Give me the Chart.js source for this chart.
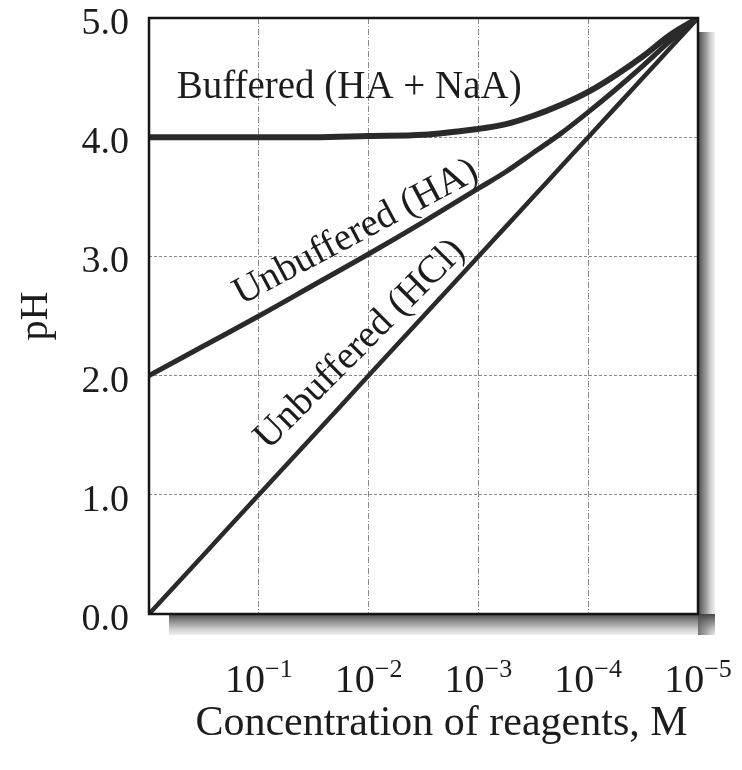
<!DOCTYPE html>
<html><head><meta charset="utf-8">
<script src="https://cdn.jsdelivr.net/npm/chart.js@4"></script>
<style>html,body{margin:0;padding:0;background:#fff}canvas{display:block}</style>
</head><body>
<canvas id="c" width="742" height="770"></canvas>
<script>
// ---- data ----
const concentrations = [1, 3.16e-1, 1e-1, 3.16e-2, 1e-2, 3.16e-3, 1e-3, 5.62e-4, 3.16e-4, 1.78e-4, 1e-4, 5.62e-5, 3.16e-5, 1.78e-5, 1e-5];
const phBuffered      = [4.00, 4.00, 4.00, 4.00, 4.01, 4.02, 4.07, 4.11, 4.18, 4.27, 4.38, 4.52, 4.68, 4.86, 5.00];
const phUnbufferedHA  = [2.00, 2.25, 2.50, 2.76, 3.02, 3.29, 3.57, 3.71, 3.87, 4.03, 4.21, 4.40, 4.60, 4.81, 5.00];
const phUnbufferedHCl = [0.00, 0.50, 1.00, 1.50, 2.00, 2.50, 3.00, 3.25, 3.50, 3.75, 4.00, 4.25, 4.50, 4.75, 5.00];
const seriesNames = ['Buffered (HA + NaA)', 'Unbuffered (HA)', 'Unbuffered (HCl)'];
const xTickValues = [1, 1e-1, 1e-2, 1e-3, 1e-4, 1e-5];
const xTickLabelBase = '10';
const xTickLabelExponents = ['', '\u22121', '\u22122', '\u22123', '\u22124', '\u22125'];
const yTickValues = [0, 1, 2, 3, 4, 5];
const xTitle = 'Concentration of reagents, M';
const yTitle = 'pH';

// ---- label placement (style, in data coordinates) ----
const labelPlacement = [
  {text: seriesNames[0], x: 5.6e-1, y: 4.33, rot: 0, align: 'left', baseline: 'alphabetic'},
  {text: seriesNames[1], x: 1.3e-2, y: 3.20, rot: -28, align: 'center', baseline: 'middle'},
  {text: seriesNames[2], x: 1.2e-2, y: 2.26, rot: -45, align: 'center', baseline: 'middle'}
];

const SERIF = '"Liberation Serif", "Times New Roman", serif';
const INK = '#1c1c1c';
const LINE = '#2a2a2a';

const pts = arr => concentrations.map((c, i) => ({x: c, y: arr[i]}));

const shadowPlugin = {
  id: 'shadow',
  beforeDraw(chart) {
    const {ctx, chartArea: a} = chart;
    ctx.save();
    let g = ctx.createLinearGradient(a.right, 0, a.right + 17, 0);
    g.addColorStop(0, 'rgba(60,60,60,0.95)');
    g.addColorStop(0.5, 'rgba(120,120,120,0.7)');
    g.addColorStop(1, 'rgba(200,200,200,0.3)');
    ctx.fillStyle = g;
    ctx.fillRect(a.right, a.top + 14, 17, a.bottom - a.top + 7);
    g = ctx.createLinearGradient(0, a.bottom, 0, a.bottom + 21);
    g.addColorStop(0, 'rgba(60,60,60,0.95)');
    g.addColorStop(0.5, 'rgba(120,120,120,0.65)');
    g.addColorStop(1, 'rgba(200,200,200,0.3)');
    ctx.fillStyle = g;
    ctx.fillRect(a.left + 20, a.bottom, a.right - a.left - 3, 21);
    ctx.restore();
  }
};

const framePlugin = {
  id: 'frame',
  afterDatasetsDraw(chart) {
    const {ctx, chartArea: a} = chart;
    ctx.save();
    ctx.strokeStyle = '#151515';
    ctx.lineWidth = 2.5;
    ctx.strokeRect(a.left, a.top, a.right - a.left, a.bottom - a.top);
    ctx.restore();
  }
};

const textPlugin = {
  id: 'texts',
  afterDraw(chart) {
    const {ctx, chartArea: a} = chart;
    const xs = chart.scales.x, ys = chart.scales.y;
    ctx.save();
    ctx.fillStyle = INK;
    xTickValues.forEach((v, i) => {
      const exp = xTickLabelExponents[i];
      if (!exp) return;
      const px = xs.getPixelForValue(v);
      ctx.font = '40px ' + SERIF;
      const wb = ctx.measureText(xTickLabelBase).width;
      ctx.font = '26px ' + SERIF;
      const we = ctx.measureText(exp).width;
      const x0 = px - (wb + we) / 2;
      ctx.textAlign = 'left';
      ctx.textBaseline = 'alphabetic';
      ctx.font = '40px ' + SERIF;
      ctx.fillText(xTickLabelBase, x0, a.bottom + 78);
      ctx.font = '26px ' + SERIF;
      ctx.fillText(exp, x0 + wb, a.bottom + 63);
    });
    ctx.font = '42px ' + SERIF;
    ctx.textAlign = 'center';
    ctx.textBaseline = 'alphabetic';
    ctx.fillText(xTitle, (a.left + a.right) / 2 + 18, a.bottom + 121);
    labelPlacement.forEach(l => {
      const px = xs.getPixelForValue(l.x), py = ys.getPixelForValue(l.y);
      ctx.save();
      ctx.translate(px, py);
      ctx.rotate(l.rot * Math.PI / 180);
      ctx.font = '39px ' + SERIF;
      ctx.textAlign = l.align;
      ctx.textBaseline = l.baseline;
      ctx.fillText(l.text, 0, 0);
      ctx.restore();
    });
    ctx.restore();
  }
};

new Chart(document.getElementById('c'), {
  type: 'line',
  data: {
    datasets: [
      {label: seriesNames[0], data: pts(phBuffered), borderColor: LINE, borderWidth: 6},
      {label: seriesNames[1], data: pts(phUnbufferedHA), borderColor: LINE, borderWidth: 5},
      {label: seriesNames[2], data: pts(phUnbufferedHCl), borderColor: LINE, borderWidth: 4.5}
    ]
  },
  options: {
    responsive: false,
    animation: false,
    events: [],
    layout: {padding: {left: 0, right: 44, top: 18, bottom: 0}},
    elements: {
      point: {radius: 0},
      line: {tension: 0.35, fill: false, borderCapStyle: 'round'}
    },
    plugins: {legend: {display: false}, tooltip: {enabled: false}},
    scales: {
      x: {
        type: 'logarithmic',
        reverse: true,
        min: 1e-5,
        max: 1,
        afterBuildTicks: s => { s.ticks = xTickValues.map(v => ({value: v})); },
        afterFit: s => { s.height = 156; s.paddingLeft = 0; s.paddingRight = 0; },
        ticks: {display: false},
        grid: {color: '#8a8a8a', lineWidth: 1, drawTicks: false},
        border: {display: false, dash: [6, 2, 1, 2]}
      },
      y: {
        type: 'linear',
        min: 0,
        max: 5,
        afterBuildTicks: s => { s.ticks = yTickValues.map(v => ({value: v})); },
        afterFit: s => { s.width = 149; s.paddingTop = 0; s.paddingBottom = 0; },
        ticks: {callback: v => Number(v).toFixed(1), color: INK, padding: 20, labelOffset: 6,
                font: {family: SERIF, size: 38}},
        grid: {color: '#8a8a8a', lineWidth: 1, drawTicks: false},
        border: {display: false, dash: [3, 2]},
        title: {display: true, text: yTitle, color: INK,
                font: {family: SERIF, size: 40}, padding: {top: 12, bottom: 0}}
      }
    }
  },
  plugins: [shadowPlugin, framePlugin, textPlugin]
});
</script>
</body></html>
